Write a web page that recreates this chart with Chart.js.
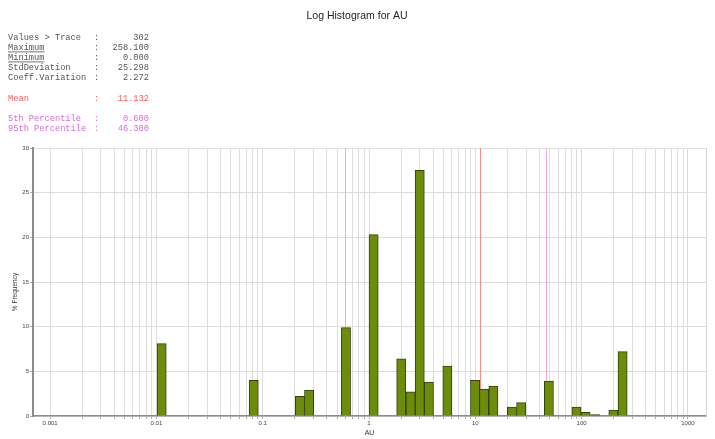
<!DOCTYPE html>
<html>
<head>
<meta charset="utf-8">
<title>Log Histogram for AU</title>
<script src="https://cdn.jsdelivr.net/npm/chart.js@4"></script>
<style>
  body { margin: 0; background: #fff; }
  #wrap { width: 715px; height: 439px; }
</style>
</head>
<body>
<div id="wrap"><canvas id="histogram" width="715" height="439"></canvas></div>
<script>
// centre of each non-empty log bin (AU) and its % frequency
const binCenters = [0.0112, 0.0823, 0.224, 0.273, 0.607, 1.105, 2.01, 2.46, 3.00, 3.66, 5.46,
                    9.95, 12.1, 14.8, 22.1, 27.0, 49.2, 89.5, 109, 134, 199, 243];
const frequencies = [8.1, 4.0, 2.2, 2.9, 9.9, 20.3, 6.4, 2.7, 27.5, 3.8, 5.6,
                     4.0, 3.0, 3.35, 1.0, 1.5, 3.9, 1.0, 0.4, 0.15, 0.65, 7.2];

const xTickLabels = ['0.001', '0.01', '0.1', '1', '10', '100', '1000'];
const yTickStep = 5;

const statLabels = ['Values > Trace', 'Maximum', 'Minimum', 'StdDeviation', 'Coeff.Variation'];
const statValues = ['302', '258.100', '0.000', '25.298', '2.272'];
const meanValue = 11.132;
const percentileLabels = ['5th Percentile', '95th Percentile'];
const percentileValues = [0.6, 46.3];

const MONO = '"Liberation Mono", "DejaVu Sans Mono", monospace';
const SANS = '"Liberation Sans", Arial, sans-serif';
const MEAN_COLOR = '#ff5a5a';
const PCT_COLOR = '#d86ad8';

// grid at 1..9 x each decade of the labelled range
function logGridValues() {
  const out = [];
  const first = Math.log10(parseFloat(xTickLabels[0]));
  const last = Math.log10(parseFloat(xTickLabels[xTickLabels.length - 1]));
  for (let e = first; e < last; e++) {
    for (let m = 1; m < 10; m++) out.push(m * Math.pow(10, e));
  }
  out.push(Math.pow(10, last));
  return out;
}

const decorations = {
  id: 'decorations',
  beforeDatasetsDraw(chart) {
    const { ctx, chartArea: a, scales: { x } } = chart;
    ctx.save();
    // right border of the plot
    ctx.strokeStyle = '#d6d6d6';
    ctx.lineWidth = 1;
    ctx.beginPath();
    ctx.moveTo(Math.round(a.right) + 0.5, a.top);
    ctx.lineTo(Math.round(a.right) + 0.5, a.bottom);
    ctx.stroke();

    const vline = (v, color) => {
      const px = Math.round(x.getPixelForValue(v)) + 0.5;
      ctx.strokeStyle = color;
      ctx.beginPath();
      ctx.moveTo(px, a.top);
      ctx.lineTo(px, a.bottom);
      ctx.stroke();
    };
    percentileValues.forEach(v => vline(v, '#f4a6ec'));
    vline(meanValue, '#ff8a8a');
    ctx.restore();
  },
  afterDraw(chart) {
    const { ctx, chartArea: a } = chart;
    ctx.save();

    ctx.fillStyle = '#222';
    ctx.font = '10.5px ' + SANS;
    ctx.textAlign = 'center';
    ctx.textBaseline = 'middle';
    ctx.fillText('Log Histogram for AU', 357, 16);

    // summary block
    ctx.font = '8.7px ' + MONO;
    const row = (label, value, y, color, underline) => {
      ctx.fillStyle = color;
      ctx.textAlign = 'left';
      ctx.fillText(label, 8, y);
      ctx.fillText(':', 94, y);
      ctx.textAlign = 'right';
      ctx.fillText(value, 149, y);
      if (underline) {
        const w = ctx.measureText(label).width;
        ctx.fillRect(8, y + 4, w, 0.8);
      }
    };
    statLabels.forEach((l, i) => row(l, statValues[i], 37.5 + i * 10, '#555', i === 1 || i === 2));
    row('Mean', meanValue.toFixed(3), 98.5, MEAN_COLOR, false);
    percentileLabels.forEach((l, i) => row(l, percentileValues[i].toFixed(3), 118.5 + i * 10, PCT_COLOR, false));

    // axis titles
    ctx.fillStyle = '#333';
    ctx.textAlign = 'center';
    ctx.font = '7px ' + SANS;
    ctx.fillText('AU', (a.left + a.right) / 2, 433);
    ctx.translate(15, 292);
    ctx.rotate(-Math.PI / 2);
    ctx.font = '6.5px ' + SANS;
    ctx.fillText('% Frequency', 0, 0);
    ctx.restore();
  }
};

const data = {
  datasets: [{
    data: binCenters.map((c, i) => ({ x: c, y: frequencies[i] })),
    backgroundColor: '#6e8c0b',
    borderColor: '#34420a',
    borderWidth: 1,
    barThickness: 9.2,
  }]
};

const options = {
  responsive: false,
  animation: false,
  events: [],
  layout: { padding: { top: 148, right: 9, left: 0, bottom: 0 } },
  plugins: { legend: { display: false }, tooltip: { enabled: false }, title: { display: false } },
  scales: {
    x: {
      type: 'logarithmic',
      min: 0.00069,
      max: 1480,
      offset: false,
      grid: { offset: false, color: '#dddddd', lineWidth: 1, drawTicks: true, tickLength: 3, tickColor: '#aaa' },
      border: { color: '#8c8c8c', width: 1.5 },
      afterBuildTicks: scale => { scale.ticks = logGridValues().map(v => ({ value: v })); },
      afterFit: scale => { scale.height = 23; },
      ticks: {
        autoSkip: false,
        maxRotation: 0,
        padding: 1,
        color: '#444',
        font: { family: SANS, size: 6 },
        callback: v => {
          const hit = xTickLabels.find(l => Math.abs(parseFloat(l) - v) < parseFloat(l) * 1e-6);
          return hit || '';
        }
      }
    },
    y: {
      min: 0,
      max: 30,
      grid: { color: '#dddddd', lineWidth: 1, drawTicks: true, tickLength: 3, tickColor: '#aaa' },
      border: { color: '#8c8c8c', width: 2 },
      afterFit: scale => { scale.width = 33; },
      ticks: { stepSize: yTickStep, padding: 1, color: '#444', font: { family: SANS, size: 6 } }
    }
  }
};

new Chart(document.getElementById('histogram'), {
  type: 'bar',
  data: data,
  options: options,
  plugins: [decorations],
});
</script>
</body>
</html>
